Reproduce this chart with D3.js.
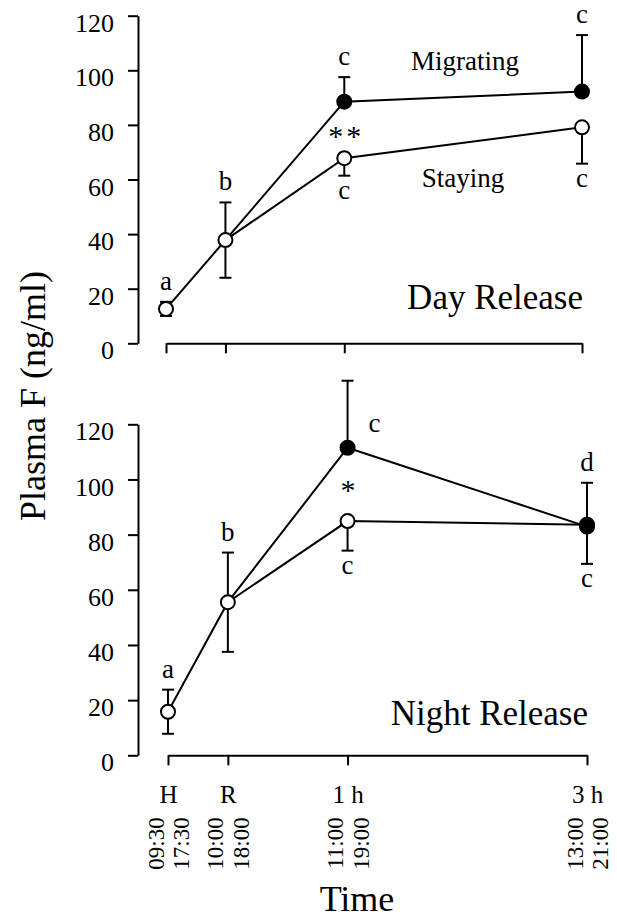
<!DOCTYPE html>
<html>
<head>
<meta charset="utf-8">
<script src="https://cdn.jsdelivr.net/npm/d3@7"></script>
<style>
  body { margin: 0; background: #fff; }
  svg text { font-family: "Liberation Serif", "Times New Roman", serif; fill: #000; }
  .axis path, .axis line { stroke: #000; stroke-width: 2; }
  .axis text { font-size: 26px; }
</style>
</head>
<body>
<div id="chart"></div>
<script>
/* Plasma F, day vs night release */

// minutes after H (09:30 / 17:30)
const times = [0, 30, 90, 210];
const timeLabels = ["H", "R", "1 h", "3 h"];
const dayClock = ["09:30", "10:00", "11:00", "13:00"];
const nightClock = ["17:30", "18:00", "19:00", "21:00"];
const yTicks = [0, 20, 40, 60, 80, 100, 120];

// Day release
const dayStaying = [12.6, 37.8, 67.8, 79.1];
const dayStayingErr = [2.6, 13.8, 6.4, 13.3];
const dayMigrating = [null, 37.8, 88.5, 92.2];
const dayMigratingErr = [null, null, 9, 20.7];
const dayLettersAbove = ["a", "b", "c", "c"];
const dayLettersBelow = ["", "", "c", "c"];
const dayLettersSide = ["", "", "", ""];
const dayStars = ["", "", "**", ""];

// Night release
const nightStaying = [15.8, 55.5, 84.9, 83.6];
const nightStayingErr = [8, 18, 10.7, 14.2];
const nightMigrating = [null, 55.5, 111.5, 82.9];
const nightMigratingErr = [null, null, 24.3, 15.9];
const nightLettersAbove = ["a", "b", "", "d"];
const nightLettersBelow = ["", "", "c", "c"];
const nightLettersSide = ["", "", "c", ""];
const nightStars = ["", "", "*", ""];

const width = 617, height = 920;

let svg = d3.select("#chart")
    .append("svg")
    .attr("width", width)
    .attr("height", height)
    .attr("viewBox", [0, 0, width, height]);

function drawPanel(p) {
    const x = d3.scaleLinear().domain([0, 210]).range(p.xRange);
    const y = d3.scaleLinear().domain([0, 120]).range(p.yRange);
    const g = svg.append("g");

    // y axis
    g.append("g")
        .attr("class", "axis")
        .attr("transform", "translate(138,0)")
        .call(d3.axisLeft(y).tickValues(yTicks).tickSize(10).tickSizeOuter(0).tickPadding(14))
        .call(a => a.selectAll(".tick text").attr("dy", "0.6em"));

    // x axis, ticks hang below
    const xa = g.append("g")
        .attr("class", "axis")
        .attr("transform", `translate(0,${y(0)})`)
        .call(d3.axisBottom(x).tickValues(times).tickSize(10).tickSizeOuter(0)
            .tickFormat((d, i) => p.showLabels ? timeLabels[i] : ""));

    if (p.showLabels) {
        xa.selectAll(".tick text")
            .attr("y", 48).attr("dy", 0)
            .style("font-size", "25px");
        xa.selectAll(".tick").each(function(d, i) {
            const t = d3.select(this);
            [[dayClock[i], -12.5], [nightClock[i], 13]].forEach(([txt, dx]) => {
                t.append("text")
                    .attr("transform", `translate(${dx},62) rotate(-90)`)
                    .attr("text-anchor", "end")
                    .attr("dy", "0.33em")
                    .style("font-size", "23px")
                    .text(txt);
            });
        });
    }

    const staying = times.map((t, i) => ({t, v: p.staying[i], e: p.stayingErr[i], i}));
    const migrating = times.map((t, i) => ({t, v: p.migrating[i], e: p.migratingErr[i], i}));

    const line = d3.line()
        .defined(d => d.v != null)
        .x(d => x(d.t))
        .y(d => y(d.v));

    g.append("path").datum(migrating)
        .attr("d", line).attr("fill", "none").attr("stroke", "#000").attr("stroke-width", 2);
    g.append("path").datum(staying)
        .attr("d", line).attr("fill", "none").attr("stroke", "#000").attr("stroke-width", 2);

    // error bars: staying goes down (both ways where it is the only group), migrating goes up
    const bars = [];
    staying.forEach(d => {
        const alone = p.migratingErr[d.i] == null;
        bars.push({t: d.t, from: d.v, to: d.v - d.e});
        if (alone) bars.push({t: d.t, from: d.v, to: d.v + d.e});
    });
    migrating.forEach(d => {
        if (d.e != null) bars.push({t: d.t, from: d.v, to: d.v + d.e});
    });

    const eb = g.append("g").attr("stroke", "#000").attr("stroke-width", 2);
    eb.selectAll(".stem").data(bars).join("line")
        .attr("x1", d => x(d.t)).attr("x2", d => x(d.t))
        .attr("y1", d => y(d.from)).attr("y2", d => y(d.to));
    eb.selectAll(".cap").data(bars).join("line")
        .attr("x1", d => x(d.t) - 6).attr("x2", d => x(d.t) + 6)
        .attr("y1", d => y(d.to)).attr("y2", d => y(d.to));

    // markers
    g.selectAll(".open").data(staying).join("circle")
        .attr("cx", d => x(d.t)).attr("cy", d => y(d.v)).attr("r", 7)
        .attr("fill", "#fff").attr("stroke", "#000").attr("stroke-width", 2);
    g.selectAll(".filled").data(migrating.filter(d => d.e != null)).join("circle")
        .attr("cx", d => x(d.t)).attr("cy", d => y(d.v)).attr("r", 7)
        .attr("fill", "#000").attr("stroke", "#000").attr("stroke-width", 2);

    // letters
    const top = i => d3.max([p.staying[i] + (p.migratingErr[i] == null ? p.stayingErr[i] : 0),
                             p.migratingErr[i] != null ? p.migrating[i] + p.migratingErr[i] : -Infinity]);
    const bottom = i => p.staying[i] - p.stayingErr[i];

    const letters = g.append("g").style("font-size", "27px").attr("text-anchor", "middle");
    letters.selectAll(".above").data(times).join("text")
        .attr("x", d => x(d)).attr("y", (d, i) => y(top(i)) - 12)
        .text((d, i) => p.above[i]);
    letters.selectAll(".below").data(times).join("text")
        .attr("x", d => x(d)).attr("y", (d, i) => y(bottom(i)) + 23)
        .text((d, i) => p.below[i]);
    letters.selectAll(".side").data(times).join("text")
        .attr("x", d => x(d) + 27).attr("y", (d, i) => p.migrating[i] != null ? y(p.migrating[i]) - 16 : 0)
        .text((d, i) => p.side[i]);
    letters.selectAll(".star").data(times).join("text")
        .attr("x", d => x(d) + 2)
        .attr("y", (d, i) => p.migrating[i] != null ? (y(p.migrating[i]) + y(p.staying[i])) / 2 + 16 : 0)
        .style("font-size", "30px")
        .style("letter-spacing", "3px")
        .text((d, i) => p.stars[i]);

    // panel title
    g.append("text")
        .attr("x", x(210) + 1).attr("y", p.titleY)
        .attr("text-anchor", "end")
        .style("font-size", "35px")
        .text(p.title);

    return {x, y};
}

drawPanel({
    xRange: [166, 582], yRange: [343.3, 15.7],
    staying: dayStaying, stayingErr: dayStayingErr,
    migrating: dayMigrating, migratingErr: dayMigratingErr,
    above: dayLettersAbove, below: dayLettersBelow, side: dayLettersSide, stars: dayStars,
    title: "Day Release", titleY: 309, showLabels: false
});

drawPanel({
    xRange: [168, 587], yRange: [755.3, 424.3],
    staying: nightStaying, stayingErr: nightStayingErr,
    migrating: nightMigrating, migratingErr: nightMigratingErr,
    above: nightLettersAbove, below: nightLettersBelow, side: nightLettersSide, stars: nightStars,
    title: "Night Release", titleY: 725, showLabels: true
});

// series labels in the day panel
svg.append("text")
    .attr("x", 465).attr("y", 70)
    .attr("text-anchor", "middle").style("font-size", "27px")
    .text("Migrating");
svg.append("text")
    .attr("x", 463).attr("y", 187)
    .attr("text-anchor", "middle").style("font-size", "27px")
    .text("Staying");

// axis titles
svg.append("text")
    .attr("transform", "translate(45,396) rotate(-90)")
    .attr("text-anchor", "middle")
    .style("font-size", "36px")
    .text("Plasma F (ng/ml)");

svg.append("text")
    .attr("x", 357).attr("y", 911)
    .attr("text-anchor", "middle")
    .style("font-size", "36px")
    .text("Time");
</script>
</body>
</html>
